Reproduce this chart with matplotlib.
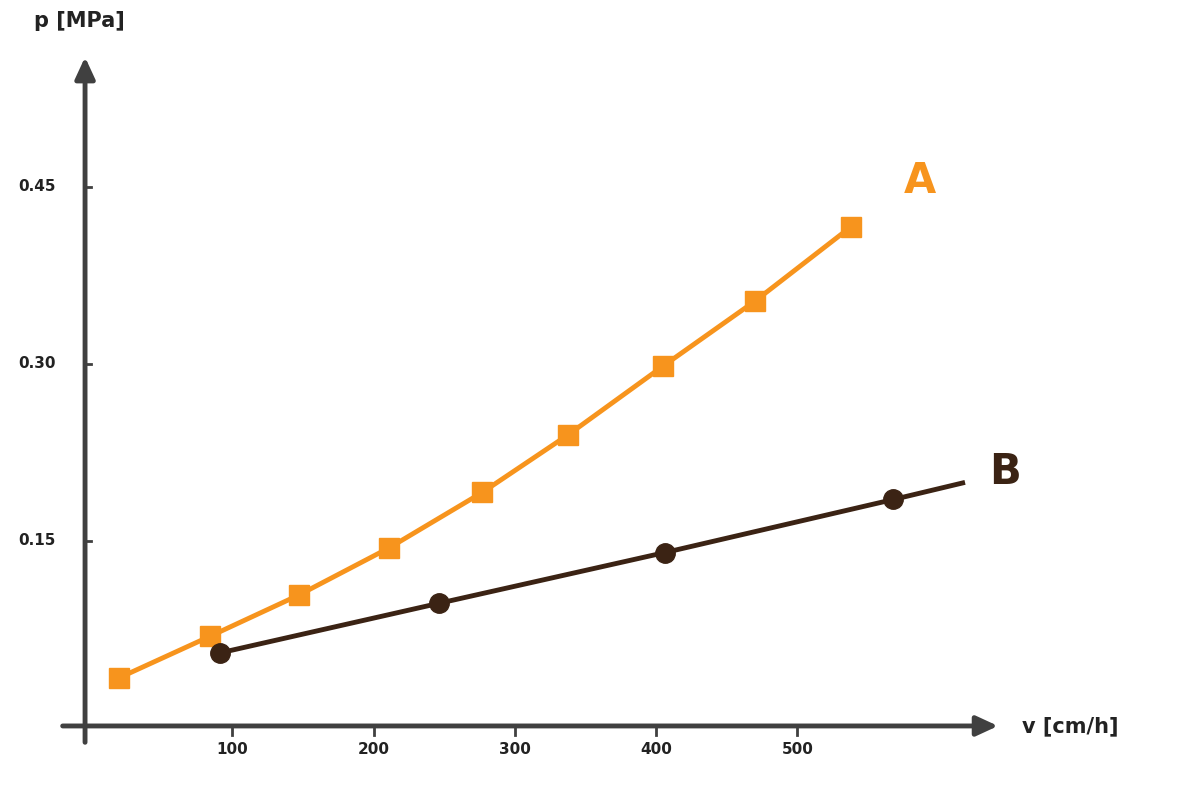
import matplotlib
matplotlib.use("Agg")
import matplotlib.pyplot as plt

# series A (squares)
a_v = [20, 84, 147, 211, 277, 338, 405, 470, 538]
a_p = [0.034, 0.069, 0.104, 0.144, 0.191, 0.240, 0.298, 0.353, 0.416]
# series B (circles) and end of its line
b_v = [91, 246, 406, 568]
b_p = [0.055, 0.097, 0.140, 0.185]
b_end = (617, 0.199)

x_ticks = [100, 200, 300, 400, 500]
y_ticks = [0.15, 0.30, 0.45]
y_labels = ["0.15", "0.30", "0.45"]

ORANGE = "#F7941D"
BROWN = "#3B2314"
AXIS = "#404040"

fig = plt.figure(figsize=(12, 8), dpi=100)
ax = fig.add_axes([0, 0, 1, 1])
ax.set_xlim(-64.4, 785)
ax.set_ylim(-0.0695, 0.608)
ax.axis("off")

x0, y0 = -4.2, -0.0068  # axis origin in data coords
# axes with arrows
ax.annotate("", xy=(644, y0), xytext=(-22, y0),
            arrowprops=dict(arrowstyle="-|>,head_length=1.3,head_width=0.6",
                            color=AXIS, lw=3.5))
ax.annotate("", xy=(x0, 0.562), xytext=(x0, -0.023),
            arrowprops=dict(arrowstyle="-|>,head_length=1.3,head_width=0.6",
                            color=AXIS, lw=3.5))

for t in x_ticks:
    ax.plot([t, t], [y0, y0 - 0.008], color=AXIS, lw=2)
    ax.text(t, -0.02, str(t), ha="center", va="top", fontsize=11,
            fontweight="bold", color="#222222")
for t, lab in zip(y_ticks, y_labels):
    ax.plot([x0, x0 + 4], [t, t], color=AXIS, lw=2)
    ax.text(-25, t, lab, ha="right", va="center", fontsize=11,
            fontweight="bold", color="#222222")

ax.text(-40, 0.59, "p [MPa]", ha="left", va="center", fontsize=15,
        fontweight="bold", color="#222222")
ax.text(659, y0, "v [cm/h]", ha="left", va="center", fontsize=15,
        fontweight="bold", color="#222222")

ax.plot(a_v, a_p, color=ORANGE, lw=3.5, marker="s", markersize=15, zorder=3)
ax.plot(b_v + [b_end[0]], b_p + [b_end[1]], color=BROWN, lw=3.5, zorder=4)
ax.plot(b_v, b_p, linestyle="none", marker="o", markersize=14,
        markerfacecolor=BROWN, markeredgecolor=BROWN, zorder=5)

ax.text(575, 0.455, "A", fontsize=30, fontweight="bold", color=ORANGE,
        ha="left", va="center")
ax.text(636, 0.208, "B", fontsize=30, fontweight="bold", color=BROWN,
        ha="left", va="center")

fig.savefig("out.png", dpi=100)
